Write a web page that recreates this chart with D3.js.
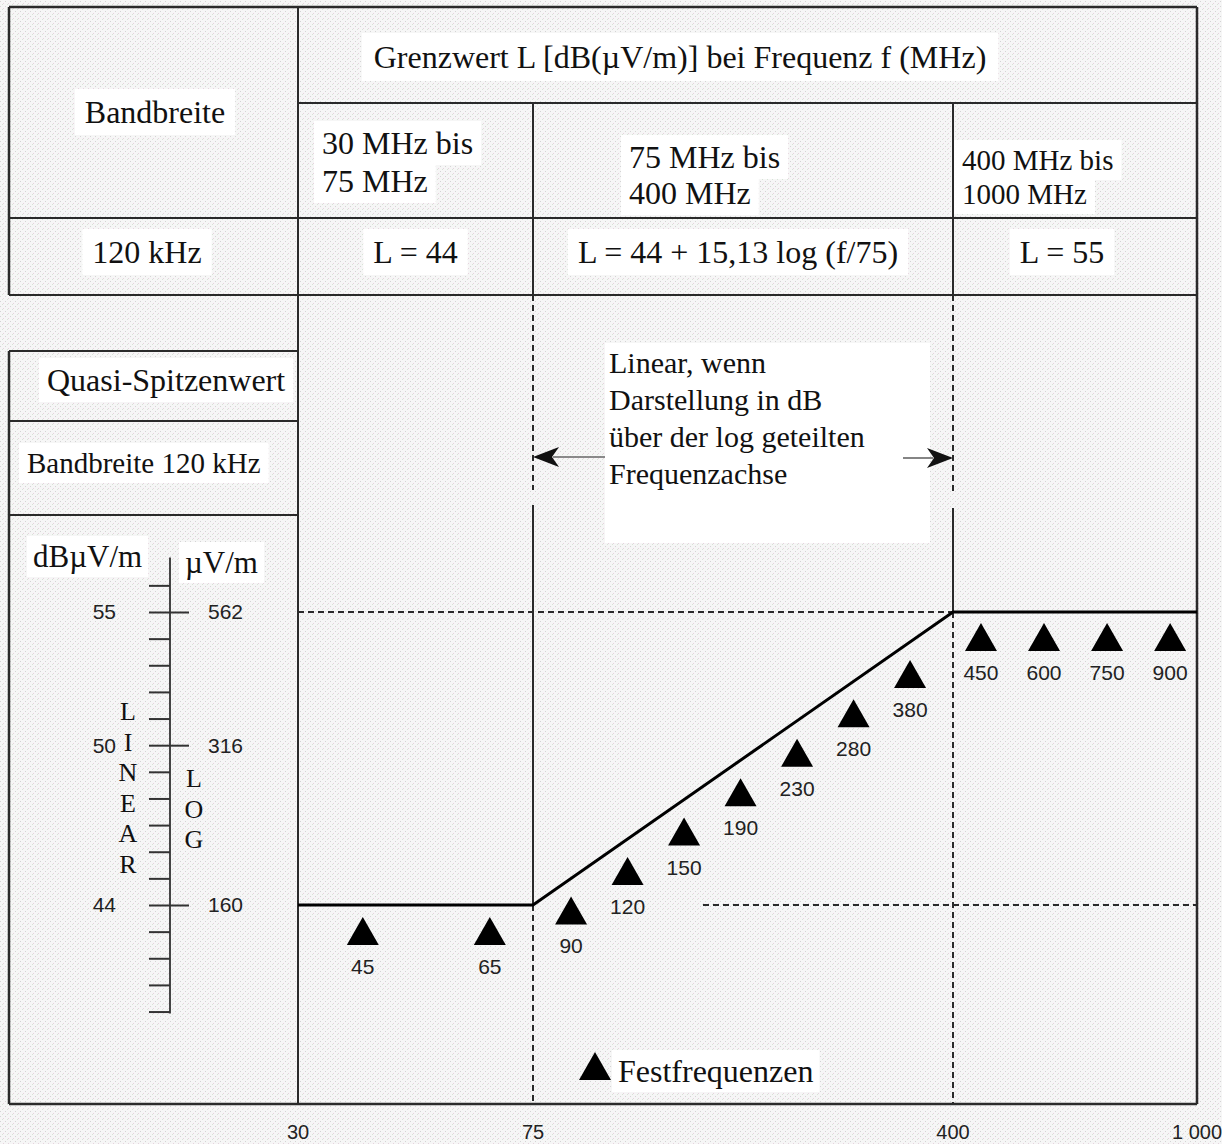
<!DOCTYPE html>
<html>
<head>
<meta charset="utf-8">
<script src="https://cdn.jsdelivr.net/npm/d3@7"></script>
<style>
  html, body { margin: 0; padding: 0; background: #fff; overflow: hidden; }
  svg { display: block; }
  .serif { font-family: "Liberation Serif", "Times New Roman", serif; fill: #111; }
  .sans { font-family: "Liberation Sans", Arial, sans-serif; fill: #222; }
</style>
</head>
<body>
<div id="chart"></div>
<script>
// Frequenzachse (MHz)
const freqTicks = [30, 75, 400, 1000];
const freqTickLabels = ["30", "75", "400", "1 000"];

// Grenzwertkurve
const limitFreq = [30, 75, 400, 1000];
const limitDb = [44, 44, 55, 55];

// Festfrequenzen je Bereich
const fixedLow = [45, 65];
const fixedMid = [90, 120, 150, 190, 230, 280, 380];
const fixedHigh = [450, 600, 750, 900];

// linke Skala
const dbMinorTicks = [40, 41, 42, 43, 44, 45, 46, 47, 48, 49, 50, 51, 52, 53, 54, 55, 56];
const dbMajorTicks = [44, 50, 55];
const uvLabels = ["160", "316", "562"];

// Tabelle
const tableTitle = "Grenzwert L [dB(µV/m)] bei Frequenz f (MHz)";
const rangeLabels = [["30 MHz bis", "75 MHz"], ["75 MHz bis", "400 MHz"], ["400 MHz bis", "1000 MHz"]];
const formulas = ["L = 44", "L = 44 + 15,13 log (f/75)", "L = 55"];
const noteLines = ["Linear, wenn", "Darstellung in dB", "über der log geteilten", "Frequenzachse"];

const width = 1222, height = 1144;

const svg = d3.select("#chart").append("svg")
    .attr("width", width)
    .attr("height", height);

// Papierstruktur
const pat = svg.append("defs").append("pattern")
    .attr("id", "paper")
    .attr("width", 5).attr("height", 5)
    .attr("patternUnits", "userSpaceOnUse");
pat.append("rect").attr("width", 5).attr("height", 5).attr("fill", "#f6f6f6");
pat.append("rect").attr("x", 0).attr("y", 1).attr("width", 1).attr("height", 1).attr("fill", "#d4d4d4");
pat.append("rect").attr("x", 3).attr("y", 3).attr("width", 1).attr("height", 1).attr("fill", "#e6d2de");
pat.append("rect").attr("x", 2).attr("y", 4).attr("width", 1).attr("height", 1).attr("fill", "#d6e4d6");

svg.append("rect").attr("width", width).attr("height", height).attr("fill", "url(#paper)");

// Skalen
const x = d3.scaleLog().domain(freqTicks).range([298, 533, 953, 1197]);
const y = d3.scaleLinear().domain([44, 55]).range([905, 612]);

const xLeft = 9, xRight = x(1000);
const rows = [7, 103, 218, 295];
const frameBottom = 1104;

const ink = "#2a2a2a";
const lines = svg.append("g");
function seg(x1, y1, x2, y2, w, dash) {
    lines.append("line")
        .attr("x1", x1).attr("y1", y1).attr("x2", x2).attr("y2", y2)
        .attr("stroke", ink)
        .attr("stroke-width", w)
        .attr("stroke-dasharray", dash || null);
}

// weisse Textfelder
const boxes = svg.append("g");
const texts = svg.append("g");
function label(str, tx, ty, size, anchor, pad) {
    const t = texts.append("text")
        .attr("class", "serif")
        .attr("x", tx).attr("y", ty)
        .attr("font-size", size)
        .attr("text-anchor", anchor || "start")
        .text(str);
    if (pad !== undefined) {
        const b = t.node().getBBox();
        boxes.append("rect")
            .attr("x", b.x - pad).attr("y", b.y - pad / 2)
            .attr("width", b.width + pad * 2).attr("height", b.height + pad)
            .attr("fill", "#fff");
    }
    return t;
}

// Tabelle oben
seg(xLeft, rows[0], xRight, rows[0], 2.5);
seg(xLeft, rows[0], xLeft, rows[3], 2.5);
seg(xRight, rows[0], xRight, frameBottom, 2.5);
seg(x(30), rows[0], x(30), frameBottom, 2);
seg(x(30), rows[1], xRight, rows[1], 2);
seg(xLeft, rows[2], xRight, rows[2], 2);
seg(xLeft, rows[3], xRight, rows[3], 2);
seg(x(75), rows[1], x(75), rows[3], 2);
seg(x(400), rows[1], x(400), rows[3], 2);

label(tableTitle, 680, 68, 32, "middle", 12);
label("Bandbreite", 155, 123, 32, "middle", 10);
label("120 kHz", 147, 263, 32, "middle", 10);
const colStart = [x(30) + 24, x(75) + 96, x(400) + 9];
const colBase = [[154, 192], [168, 204], [170, 204]];
rangeLabels.forEach((pair, i) => {
    pair.forEach((s, j) => label(s, colStart[i], colBase[i][j], i === 2 ? 29 : 32, "start", 8));
});
const cellMid = [(x(30) + x(75)) / 2, (x(75) + x(400)) / 2, (x(400) + xRight) / 2];
formulas.forEach((s, i) => label(s, cellMid[i] + [0, -5, -13][i], 263, 32, "middle", 10));

// linker Kasten
seg(xLeft, 351, x(30), 351, 2);
seg(xLeft, 351, xLeft, frameBottom, 2.5);
seg(xLeft, 421, x(30), 421, 2);
seg(xLeft, 515, x(30), 515, 2);
seg(xLeft, frameBottom, xRight, frameBottom, 2.5);

label("Quasi-Spitzenwert", 47, 391, 32, "start", 8);
label("Bandbreite 120 kHz", 27, 473, 29, "start", 8);
label("dBµV/m", 33, 567, 31, "start", 6);
label("µV/m", 185, 573, 31, "start", 6);

// Senkrechte Bereichsgrenzen
const dash = "6,4";
seg(x(75), rows[3], x(75), 490, 2, dash);
seg(x(75), 505, x(75), y(44), 2);
seg(x(75), y(44), x(75), frameBottom, 2, dash);
seg(x(400), rows[3], x(400), 495, 2, dash);
seg(x(400), 508, x(400), y(55), 2);
seg(x(400), y(55), x(400), frameBottom, 2, dash);

// waagerechte Hilfslinien
seg(x(30), y(55), x(400), y(55), 1.8, dash);
seg(703, y(44), xRight, y(44), 1.8, dash);

// Grenzwertkurve
svg.append("path")
    .datum(limitFreq.map((f, i) => ({ f, db: limitDb[i] })))
    .attr("fill", "none")
    .attr("stroke", "#000")
    .attr("stroke-width", 3)
    .attr("d", d3.line().x(d => x(d.f)).y(d => y(d.db)));

// Hinweistext mit Pfeilen
svg.append("rect")
    .attr("x", 605).attr("y", 343).attr("width", 325).attr("height", 200)
    .attr("fill", "#fff");
noteLines.forEach((s, i) => {
    svg.append("text").attr("class", "serif")
        .attr("x", 609).attr("y", 373 + i * 37)
        .attr("font-size", 30)
        .text(s);
});
const arrowY = 457;
svg.append("line").attr("x1", 605).attr("y1", arrowY).attr("x2", x(75) + 20).attr("y2", arrowY)
    .attr("stroke", "#666").attr("stroke-width", 1.6);
svg.append("path")
    .attr("d", `M${x(75)},${arrowY} L${x(75) + 26},${arrowY - 10} L${x(75) + 19},${arrowY} L${x(75) + 26},${arrowY + 10} Z`)
    .attr("fill", "#111");
svg.append("line").attr("x1", 903).attr("y1", arrowY + 1).attr("x2", x(400) - 20).attr("y2", arrowY + 1)
    .attr("stroke", "#666").attr("stroke-width", 1.6);
svg.append("path")
    .attr("d", `M${x(400)},${arrowY + 1} L${x(400) - 26},${arrowY - 9} L${x(400) - 19},${arrowY + 1} L${x(400) - 26},${arrowY + 11} Z`)
    .attr("fill", "#111");

// Festfrequenzen als Dreiecke
const triW = 16, triH = 28;
const tri = (cx, top) => `M${cx},${top} L${cx + triW},${top + triH} L${cx - triW},${top + triH} Z`;
const lineY = d3.scaleLinear().domain(limitFreq.map(f => x(f))).range(limitDb.map(v => y(v)));

const bands = [
    { freqs: fixedLow, from: 30, to: 75, padding: 0.425, align: 0.6, gap: 12 },
    { freqs: fixedMid, from: 75, to: 400, padding: 0.717, align: 0.47, gap: 18 },
    { freqs: fixedHigh, from: 400, to: 1000, padding: 0.435, align: 0.51, gap: 11 }
];
const marks = svg.append("g");
bands.forEach(b => {
    const px = d3.scalePoint().domain(b.freqs).range([x(b.from), x(b.to)])
        .padding(b.padding).align(b.align);
    b.freqs.forEach(f => {
        const cx = px(f);
        const top = lineY(cx) + b.gap;
        marks.append("path").attr("d", tri(cx, top)).attr("fill", "#000");
        marks.append("text").attr("class", "sans")
            .attr("x", cx).attr("y", top + triH + 29)
            .attr("font-size", 21)
            .attr("text-anchor", "middle")
            .text(f);
    });
});

// Legende
label("Festfrequenzen", 618, 1082, 32, "start", 6);
marks.append("path").attr("d", tri(595, 1052)).attr("fill", "#000");

// linke Skala dB / µV/m
const scaleX = 170;
const scaleG = svg.append("g");
scaleG.append("line")
    .attr("x1", scaleX).attr("x2", scaleX)
    .attr("y1", y(57.05)).attr("y2", y(40) + 2)
    .attr("stroke", "#444").attr("stroke-width", 2);
const minorAxis = scaleG.append("g").attr("transform", `translate(${scaleX},0)`)
    .call(d3.axisLeft(y).tickValues(dbMinorTicks).tickSize(21).tickFormat(""));
const majorAxis = scaleG.append("g").attr("transform", `translate(${scaleX},0)`)
    .call(d3.axisRight(y).tickValues(dbMajorTicks).tickSize(19).tickFormat(""));
[minorAxis, majorAxis].forEach(a => {
    a.select(".domain").remove();
    a.selectAll(".tick line").attr("stroke", "#333").attr("stroke-width", 2);
});
scaleG.selectAll(".db-label").data(dbMajorTicks).enter().append("text")
    .attr("class", "sans")
    .attr("x", 116).attr("y", d => y(d)).attr("dy", "0.35em")
    .attr("font-size", 21).attr("text-anchor", "end")
    .text(d => d);
scaleG.selectAll(".uv-label").data(uvLabels).enter().append("text")
    .attr("class", "sans")
    .attr("x", 208).attr("y", (d, i) => y(dbMajorTicks[i])).attr("dy", "0.35em")
    .attr("font-size", 21)
    .text(d => d);

// LINEAR / LOG senkrecht
"LINEAR".split("").forEach((c, i) => {
    scaleG.append("text").attr("class", "serif")
        .attr("x", 128).attr("y", 720 + i * 30.6)
        .attr("font-size", 26).attr("text-anchor", "middle")
        .text(c);
});
"LOG".split("").forEach((c, i) => {
    scaleG.append("text").attr("class", "serif")
        .attr("x", 194).attr("y", 787 + i * 30.6)
        .attr("font-size", 26).attr("text-anchor", "middle")
        .text(c);
});

// Frequenzbeschriftung unten
svg.append("g").selectAll("text").data(freqTicks).enter().append("text")
    .attr("class", "sans")
    .attr("x", d => x(d)).attr("y", 1139)
    .attr("dx", (d, i) => i === freqTicks.length - 1 ? 0 : 0)
    .attr("font-size", 20).attr("text-anchor", "middle")
    .text((d, i) => freqTickLabels[i]);
</script>
</body>
</html>
